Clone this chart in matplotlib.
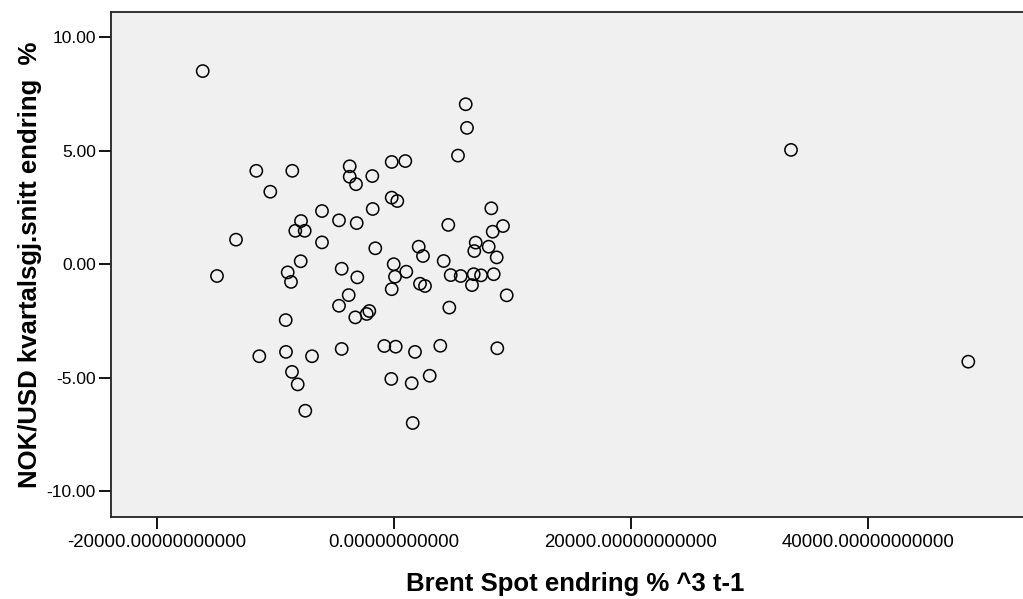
import matplotlib
matplotlib.use("Agg")
import matplotlib.pyplot as plt
from matplotlib.ticker import FormatStrFormatter

# Brent spot change %^3 (t-1) vs NOK/USD quarterly avg change %
brent_cubed = [
    -16143, 6051, 6160, 5401, -11620, -8582, -3738, -3738, -3207, -1831,
    -194, 954, -10439, -194, 278, -1797, -6076, -7848, -8329, -7536,
    -4641, -3148, 4582, 8211, 8329, 9198, -13333, -6076, -1578, 2084,
    2447, 6895, 6776, 7992, 8667, -14937, -8970, -8692, -7873, -4414,
    -3097, -25, 84, 1038, -194, 2194, 2616, 4194, 4785, 5629,
    6726, 7342, 8414, 6582, -3823, 9511, -4641, -3266, -2304, -2084,
    4667, -9139, -11367, -9114, -6920, -8608, -8127, -7485, -4414, -819,
    143, 1772, 3907, 8717, -228, 1494, 3013, 1578, 33502, 48464,
]
nok_usd = [
    8.50, 7.04, 6.00, 4.78, 4.11, 4.11, 4.31, 3.85, 3.52, 3.88,
    4.50, 4.54, 3.19, 2.93, 2.78, 2.43, 2.34, 1.90, 1.47, 1.47,
    1.93, 1.81, 1.73, 2.46, 1.43, 1.68, 1.08, 0.96, 0.70, 0.77,
    0.36, 0.95, 0.58, 0.77, 0.30, -0.52, -0.36, -0.78, 0.13, -0.20,
    -0.58, 0.00, -0.55, -0.33, -1.10, -0.86, -0.96, 0.14, -0.48, -0.52,
    -0.44, -0.49, -0.44, -0.92, -1.36, -1.37, -1.83, -2.34, -2.19, -2.06,
    -1.91, -2.46, -4.05, -3.86, -4.05, -4.74, -5.29, -6.45, -3.73, -3.60,
    -3.63, -3.86, -3.59, -3.70, -5.05, -5.24, -4.91, -6.99, 5.03, -4.29,
]
x_ticks = [-20000, 0, 20000, 40000]
y_ticks = [-10, -5, 0, 5, 10]

plt.rcParams['font.family'] = ['Liberation Sans', 'DejaVu Sans']

W, H = 1023, 599
fig = plt.figure(figsize=(W / 100, H / 100), dpi=100)
# axes run past the right edge of the picture, like the cropped original
ax = fig.add_axes([110.5 / W, 1 - 516.7 / H, 930 / W, (516.7 - 12.3) / H])
ax.set_facecolor('#f0f0f0')

ax.scatter(brent_cubed, nok_usd, s=78, facecolors='none', edgecolors='black',
           linewidths=1.1, zorder=3)

# 0 at px 394, 237 px per 20000; 0 at py 264.2, 113.6 px per 5
ax.set_xlim((110.5 - 394) / 237 * 20000, (1040.5 - 394) / 237 * 20000)
ax.set_ylim((264.2 - 516.7) / 113.6 * 5, (264.2 - 12.3) / 113.6 * 5)

ax.set_xticks(x_ticks)
ax.set_yticks(y_ticks)
ax.xaxis.set_major_formatter(FormatStrFormatter('%.11f'))
ax.yaxis.set_major_formatter(FormatStrFormatter('%.2f'))
ax.tick_params(axis='both', direction='out', length=8.5, width=1.3,
               color='black', pad=2)
ax.tick_params(axis='x', labelsize=13.4, pad=4)
ax.tick_params(axis='y', labelsize=12.5)

for side in ('left', 'bottom', 'top'):
    ax.spines[side].set_linewidth(1.3)
    ax.spines[side].set_color('#222222')
ax.spines['right'].set_visible(False)

ax.set_xlabel('Brent Spot endring % ^3 t-1', fontsize=18.5, fontweight='bold',
              labelpad=15)
ax.set_ylabel('NOK/USD kvartalsgj.snitt endring  %', fontsize=18.5,
              fontweight='bold', labelpad=3)

fig.savefig('out.png', dpi=100)
